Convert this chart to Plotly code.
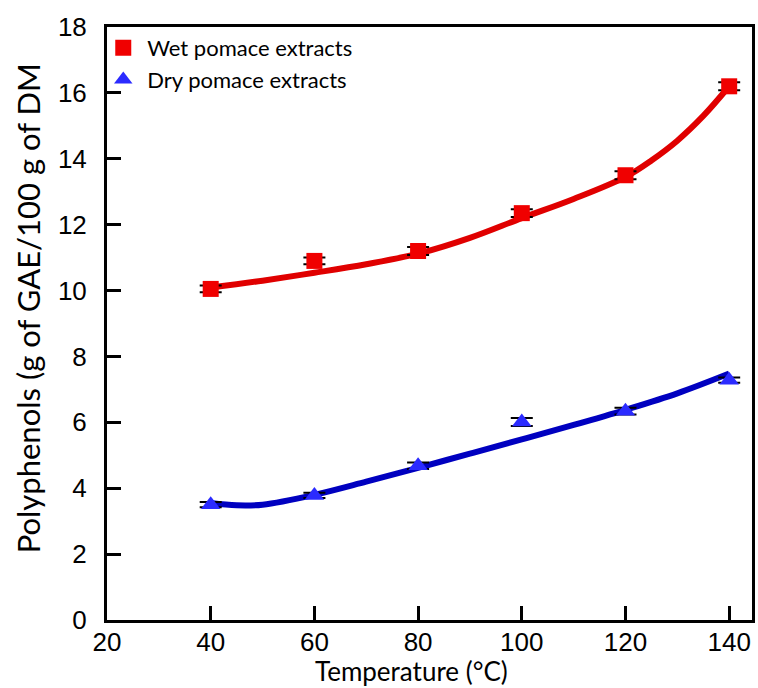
import plotly.graph_objects as go

temps = [40, 60, 80, 100, 120, 140]
wet = [10.05, 10.9, 11.2, 12.35, 13.5, 16.2]
wet_err = [0.1, 0.1, 0.12, 0.12, 0.12, 0.12]
dry = [3.5, 3.78, 4.68, 6.01, 6.34, 7.28]
dry_err = [0.08, 0.08, 0.1, 0.12, 0.1, 0.08]

# fitted trend curves
fit_x = [40, 50, 60, 70, 80, 90, 100, 110, 120, 125, 130, 135, 140]
wet_fit = [10.09, 10.3, 10.54, 10.8, 11.12, 11.6, 12.2, 12.78, 13.45, 13.95, 14.55, 15.3, 16.2]
dry_fit_x = [40, 45, 50, 60, 70, 80, 90, 100, 110, 120, 130, 140]
dry_fit = [3.55, 3.48, 3.5, 3.8, 4.2, 4.62, 5.05, 5.48, 5.92, 6.38, 6.88, 7.48]

RED_M = "#F00000"
RED_L = "#E00000"
BLUE_M = "#2B2BFF"
BLUE_L = "#0000C0"

fig = go.Figure()
fig.add_trace(go.Scatter(x=fit_x, y=wet_fit, mode="lines", line=dict(color=RED_L, width=6, shape="spline"),
                         showlegend=False, hoverinfo="skip"))
fig.add_trace(go.Scatter(x=dry_fit_x, y=dry_fit, mode="lines", line=dict(color=BLUE_L, width=6, shape="spline"),
                         showlegend=False, hoverinfo="skip"))
fig.add_trace(go.Scatter(x=temps, y=wet, mode="markers", name="Wet pomace extracts",
                         marker=dict(symbol="square", size=16, color=RED_M),
                         error_y=dict(type="data", array=wet_err, color="black", thickness=2, width=11)))
fig.add_trace(go.Scatter(x=temps, y=dry, mode="markers", name="Dry pomace extracts",
                         marker=dict(symbol="triangle-up", size=17, color=BLUE_M),
                         error_y=dict(type="data", array=dry_err, color="black", thickness=2, width=11)))

axis_common = dict(showline=True, linecolor="black", linewidth=3, mirror=True,
                   ticks="inside", ticklen=14, tickwidth=3, tickcolor="black",
                   showgrid=False, zeroline=False,
                   tickfont=dict(family="Liberation Sans, Arial", size=26, color="black"))

fig.update_layout(
    width=758, height=688,
    margin=dict(l=107, r=3, t=27, b=68),
    plot_bgcolor="white", paper_bgcolor="white",
    xaxis=dict(range=[20, 144.4], tickvals=[20, 40, 60, 80, 100, 120, 140], ticklabelstandoff=-3, **axis_common),
    yaxis=dict(range=[0, 18], tickvals=list(range(0, 19, 2)), ticklabelstandoff=12, **axis_common),
    legend=dict(x=-0.012, y=1.0, xanchor="left", yanchor="top", bgcolor="rgba(0,0,0,0)",
                font=dict(family="Lato, Open Sans", size=22, color="black"),
                itemwidth=38, tracegroupgap=0),
    showlegend=True,
    annotations=[
        dict(text="Temperature (°C)", x=413, y=671, xref="paper", yref="paper", showarrow=False,
             xanchor="center", yanchor="middle",
             font=dict(family="Lato, Open Sans", size=26, color="black")),
        dict(text="Polyphenols (g of GAE/100 g of DM", x=28, y=308, xref="paper", yref="paper", showarrow=False,
             xanchor="center", yanchor="middle",
             textangle=-90, font=dict(family="Lato, Open Sans", size=31, color="black")),
    ],
)
# convert pixel positions to paper coords for annotations
pw = 758 - 107 - 3
ph = 688 - 27 - 68
for ann in fig.layout.annotations:
    px, py = ann.x, ann.y
    ann.x = (px - 107) / pw
    ann.y = (688 - 68 - py) / ph

fig.write_html("out.html")
